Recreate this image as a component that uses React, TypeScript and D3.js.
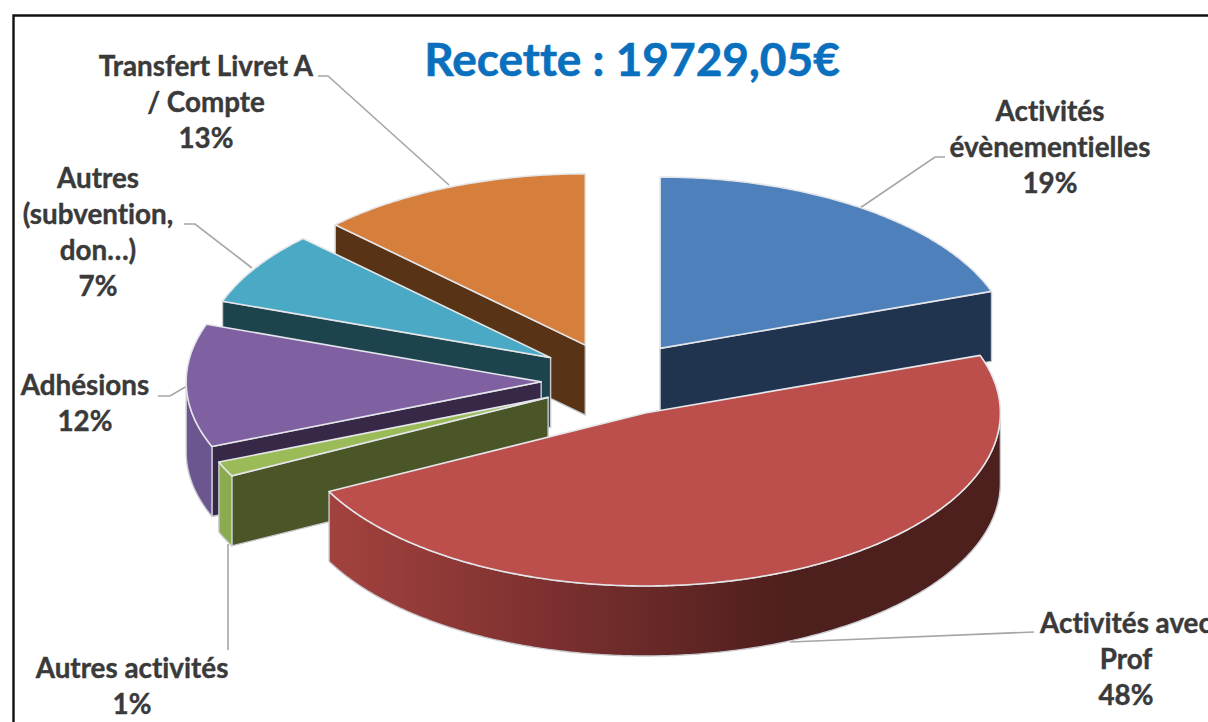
import React from "react";
import * as d3 from "d3";

// ---- data ----
const categories = ["Activités évènementielles", "Activités avec Prof", "Autres activités", "Adhésions", "Autres (subvention, don…)", "Transfert Livret A / Compte"];
const values = [19.6, 47.9, 1.4, 11.5, 7.0, 12.6];
const topColors = ["#4e80bb", "#bc4e4b", "#9bbb59", "#7f60a0", "#4aa9c4", "#d67f3c"];
const edgeColors = ["#20344f", "#4d1f1d", "#4a5628", "#382848", "#1d434c", "#583316"];
const rimColors = ["#3c6494", "url(#redWall)", "#8cab50", "#6b5690", "#3a8599", "#a8632e"];
const explodeX = [0.22, 0.217, 0.207, 0.208, 0.214, 0.217];
const explodeY = [0.21, 0.22, 0.27, 1.0, 0.222, 0.206];
const sizeScale = [0.99, 1, 1, 1, 0.98, 0.99];

const titleText = "Recette : 19729,05€";
const labels = [
  { lines: ["Activités", "évènementielles", "19%"], x: 1050, y: 121 },
  { lines: ["Activités avec", "Prof", "48%"], x: 1126, y: 633 },
  { lines: ["Autres activités", "1%"], x: 132, y: 678 },
  { lines: ["Adhésions", "12%"], x: 85, y: 395 },
  { lines: ["Autres", "(subvention,", "don…)", "7%"], x: 98, y: 188 },
  { lines: ["Transfert Livret A", "/ Compte", "13%"], x: 206, y: 76 },
];
const leaders: [number, number][][] = [
  [[945, 157], [935, 157], [860, 208]],
  [[1034, 632], [790, 642]],
  [[228, 650], [228, 544]],
  [[158, 396], [170, 396], [187, 386]],
  [[184, 224], [195, 224], [252, 268]],
  [[318, 76], [328, 76], [449, 185]],
];

// ---- geometry of the projected pie ----
const CX = 615, CY = 378, RX = 355, RY = 173, DEPTH = 70;
const FONT = "Lato, Carlito, Calibri, sans-serif";

const pieGen = d3.pie<number>().sort(null).startAngle(0).endAngle(2 * Math.PI);
const line = d3.line<[number, number]>();

function sample(a0: number, a1: number) {
  const n = Math.max(2, Math.ceil(Math.abs(a1 - a0) / 0.01));
  return d3.range(n + 1).map((i) => a0 + ((a1 - a0) * i) / n);
}

export default function App() {
  document.body.style.margin = "0";
  const slices = pieGen(values).map((d, i) => {
    const mid = (d.startAngle + d.endAngle) / 2;
    const ax = CX + explodeX[i] * RX * Math.sin(mid);
    const ay = CY - explodeY[i] * RY * Math.cos(mid);
    const rx = RX * sizeScale[i], ry = RY * sizeScale[i];
    const px = (a: number, dz = 0): [number, number] => [ax + rx * Math.sin(a), ay - ry * Math.cos(a) + dz];
    const apex: [number, number] = [ax, ay];
    const apexLow: [number, number] = [ax, ay + DEPTH];
    const top = line([apex, ...sample(d.startAngle, d.endAngle).map((a) => px(a)), apex]) + "Z";
    const edgeWall = (a: number) => line([apex, px(a), px(a, DEPTH), apexLow]) + "Z";
    const walls: { d: string; fill: string }[] = [];
    if (Math.sin(d.startAngle) < -1e-6) walls.push({ d: edgeWall(d.startAngle), fill: edgeColors[i] });
    if (Math.sin(d.endAngle) > 1e-6) walls.push({ d: edgeWall(d.endAngle), fill: edgeColors[i] });
    const r0 = Math.max(d.startAngle, Math.PI / 2), r1 = Math.min(d.endAngle, (3 * Math.PI) / 2);
    if (r1 > r0) {
      const arc = sample(r0, r1);
      const pts = [...arc.map((a) => px(a)), ...arc.slice().reverse().map((a) => px(a, DEPTH))];
      walls.push({ d: line(pts) + "Z", fill: rimColors[i] });
    }
    return { i, ay, top, walls };
  });
  const order = slices.slice().sort((a, b) => d3.ascending(a.ay, b.ay));

  return (
    <svg width={1208} height={722} viewBox="0 0 1208 722" style={{ position: "absolute", left: 0, top: 0, display: "block" }}>
      <defs>
        <linearGradient id="redWall" gradientUnits="userSpaceOnUse" x1={334} x2={790} y1={0} y2={0}>
          <stop offset="0" stopColor="#a2423e" />
          <stop offset="0.45" stopColor="#7e3130" />
          <stop offset="1" stopColor="#4d1f1d" />
        </linearGradient>
      </defs>
      <rect x={0} y={0} width={1208} height={722} fill="#fff" />
      <path d="M13.5,730V15.5H1220" fill="none" stroke="#111" strokeWidth={2.4} />

      {leaders.map((pts, i) => (
        <path key={categories[i]} d={line(pts) ?? ""} fill="none" stroke="#a6a6a6" strokeWidth={1.6} />
      ))}

      {order.map((s) => (
        <g key={s.i}>
          {s.walls.map((w, j) => (
            <path key={j} d={w.d} fill={w.fill} stroke="#c9ccd0" strokeWidth={1.4} strokeLinejoin="round" />
          ))}
          <path d={s.top} fill={topColors[s.i]} stroke="#e4e6ea" strokeWidth={1.6} strokeLinejoin="round" />
        </g>
      ))}

      <text x={632} y={76} textAnchor="middle" fontFamily={FONT} fontWeight={700} fontSize={46} fill="#0a70bd" stroke="#0a70bd" strokeWidth={0.6} style={{ fontVariantLigatures: "none" }}>
        {titleText}
      </text>
      {labels.map((l) =>
        l.lines.map((t, k) => (
          <text key={l.x + t} x={l.x} y={l.y + k * 36} textAnchor="middle" fontFamily={FONT} fontWeight={700} fontSize={27.8} fill="#3a3a3a" stroke="#3a3a3a" strokeWidth={0.4} style={{ fontVariantLigatures: "none" }}>
            {t}
          </text>
        ))
      )}
    </svg>
  );
}
